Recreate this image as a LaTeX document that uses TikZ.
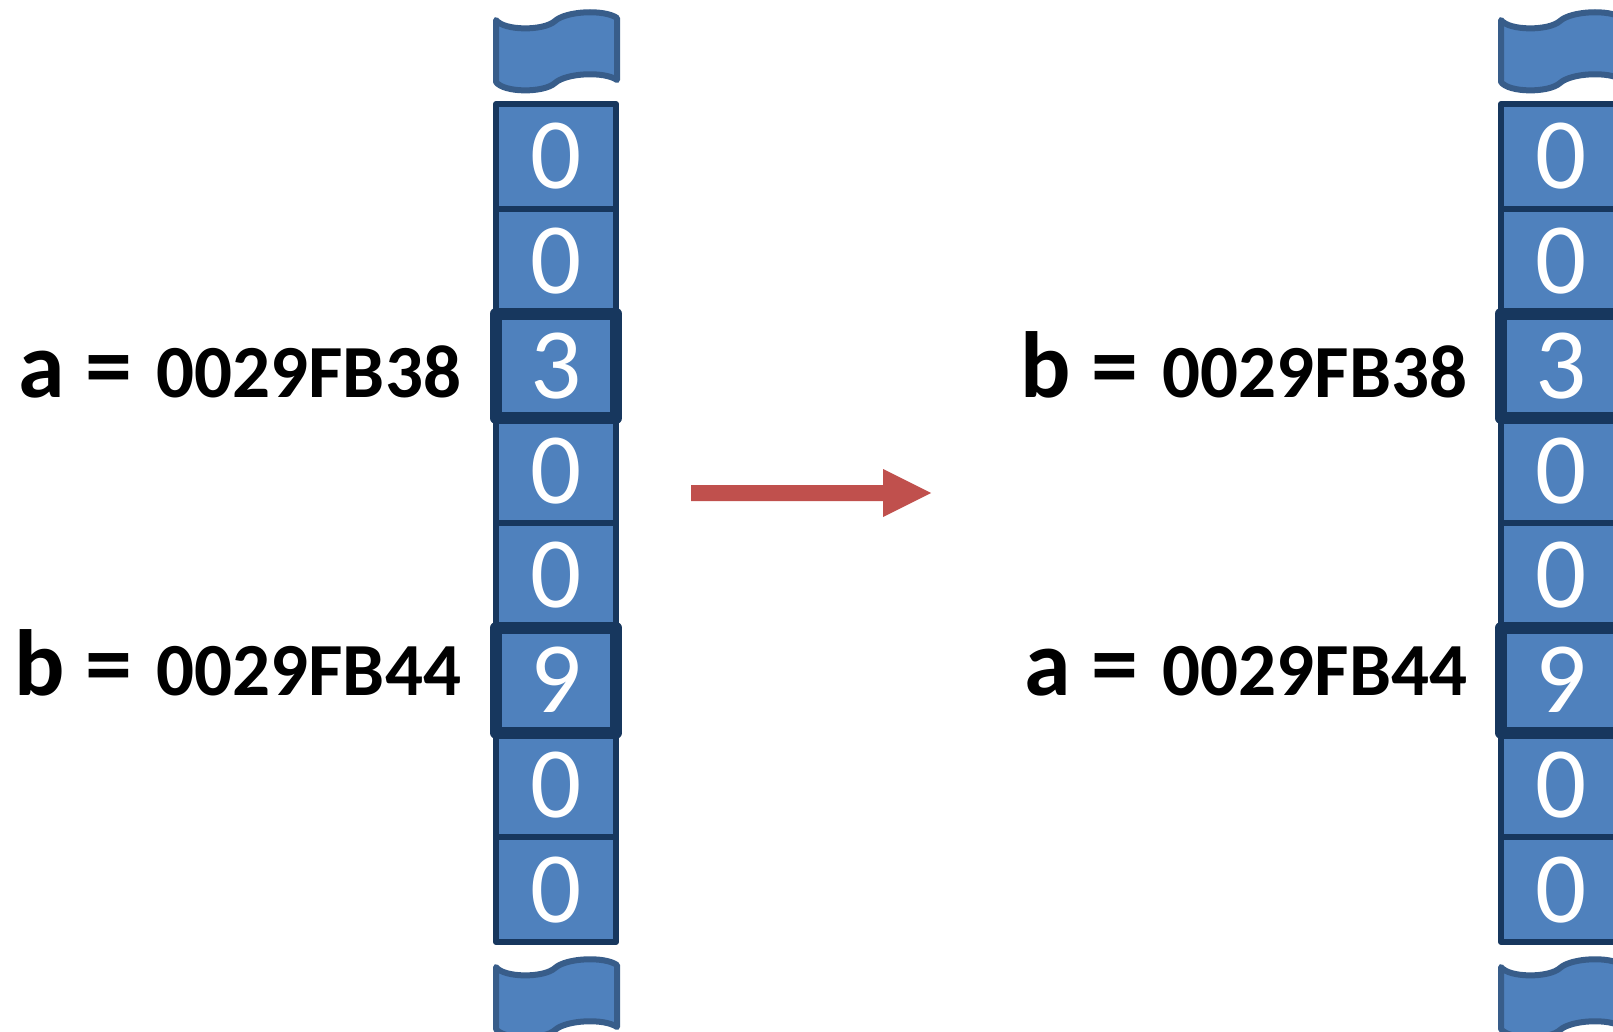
\documentclass[tikz,border=0pt]{standalone}
\usepackage{fontspec}
\setmainfont{Carlito}
\definecolor{cellfill}{HTML}{4F81BD}
\definecolor{cellline}{HTML}{17375E}
\definecolor{waveline}{HTML}{385D8A}
\definecolor{arrowred}{HTML}{C0504D}
\newcommand\memwave[2]{%
  \begin{scope}[shift={(#1,#2)}]
    \draw[wavestyle] (0,0) .. controls (8,11) and (48,11) .. (59,1)
      .. controls (70,-9) and (108,-11) .. (121,-2)
      -- (121,60)
      .. controls (108,51) and (70,53) .. (59,63)
      .. controls (48,73) and (8,73) .. (0,62) -- cycle;
  \end{scope}}
\tikzset{
  wavestyle/.style={fill=cellfill, draw=waveline, line width=6pt, line join=round},
  cell/.style={draw=cellline, fill=cellfill, line width=6pt, line join=round,
    minimum width=120pt, minimum height=104.75pt, inner sep=0pt, outer sep=0pt,
    text=white, font=\fontsize{101}{101}\selectfont},
  hl/.style={draw=cellline, line width=12pt, line join=round},
  lbl/.style={anchor=base east, inner sep=0pt, outer sep=0pt,
    font=\fontsize{75}{80}\selectfont\bfseries},
}
\newcommand\varname[1]{{\fontsize{94}{94}\selectfont #1}}
\newcommand\eqsep{\hspace{21pt}\varname{=}\hspace{24pt}}
\begin{document}
\begin{tikzpicture}[x=1pt,y=-1pt]
\useasboundingbox (0,0) rectangle (1613,1032);
\clip (0,0) rectangle (1613,1032);
% waves
\memwave{496}{20}
\memwave{496}{967}
\memwave{1501}{20}
\memwave{1501}{967}
% cells
\foreach \v [count=\i] in {0,0,3,0,0,9,0,0} {
  \node[cell] (L\i) at (556, {104+(\i-0.5)*104.75}) {\v};
  \node[cell] (R\i) at (1561, {104+(\i-0.5)*104.75}) {\v};
}
\foreach \n in {L3,L6,R3,R6} {
  \draw[hl] (\n.north west) rectangle (\n.south east);
}
% labels
\node[lbl] (la) at (461,397) {\varname{a}\eqsep0029FB38};
\node[lbl] (lb) at (461,695) {\varname{b}\eqsep0029FB44};
\node[lbl] (rb) at (1467,397) {\varname{b}\eqsep0029FB38};
\node[lbl] (ra) at (1467,695) {\varname{a}\eqsep0029FB44};
% arrow
\coordinate (as) at (691,493);
\coordinate (ae) at (931,493);
\fill[arrowred] (as) ++(0,-8) -- (883,485) -- (883,469) -- (ae) -- (883,517) -- (883,501) -- (691,501) -- cycle;
\end{tikzpicture}
\end{document}
